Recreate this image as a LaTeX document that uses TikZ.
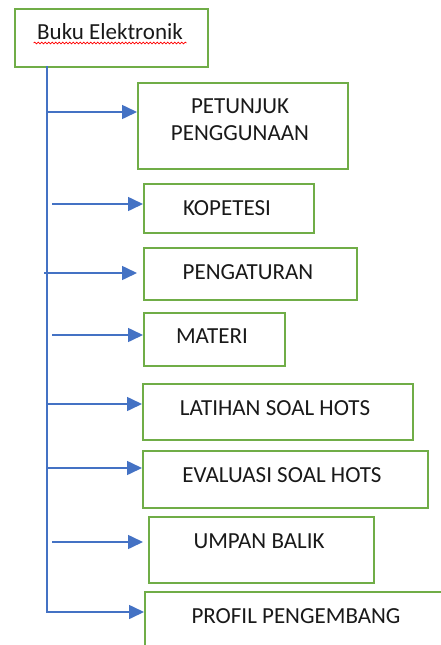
\documentclass[tikz,border=0pt]{standalone}
\usepackage{fontspec}
\setmainfont{Carlito}
\usetikzlibrary{arrows.meta, calc, decorations.pathmorphing}

\definecolor{lineblue}{HTML}{4472C4}
\definecolor{boxgreen}{HTML}{70AD47}

\begin{document}
\begin{tikzpicture}[
                x=1pt, y=-1pt,
                box/.style={draw=boxgreen, line width=1.6pt, anchor=north west, inner sep=0pt},
                lbl/.style={font=\fontsize{23}{26}\selectfont, align=center, text=black!90, anchor=base},
                arr/.style={-{Triangle[length=15pt,width=14pt]}, draw=lineblue, line width=1.6pt}
            ]
                \useasboundingbox (0,0) rectangle (441,645);
                \clip (0,0) rectangle (441,645);

                % kotak-kotak
                \node[box, minimum width=193, minimum height=58] (buku) at (14,8) {};
                \node[box, minimum width=210, minimum height=86] (petunjuk) at (137,82) {};
                \node[box, minimum width=170, minimum height=49] (kompetensi) at (143,183) {};
                \node[box, minimum width=213, minimum height=52] (pengaturan) at (143,247) {};
                \node[box, minimum width=141, minimum height=53] (materi) at (143,312) {};
                \node[box, minimum width=270, minimum height=56] (latihan) at (142,383) {};
                \node[box, minimum width=285, minimum height=57] (evaluasi) at (142,450) {};
                \node[box, minimum width=225, minimum height=66] (umpan) at (148,516) {};
                \node[box, minimum width=310, minimum height=80] (profil) at (144,591) {};

                % teks
                \node[lbl] (buku-t) at (110,39) {Buku Elektronik};
                \draw[red, line width=0.7pt, decorate, decoration={snake, amplitude=0.9pt, segment length=3.5pt}]
                    ([yshift=-4pt]buku-t.base west) -- ([yshift=-4pt]buku-t.base east);
                \node[lbl] (petunjuk-t1) at (240,113) {PETUNJUK};
                \node[lbl] (petunjuk-t2) at (240,140) {PENGGUNAAN};
                \node[lbl] (kompetensi-t) at (227,215) {KOPETESI};
                \node[lbl] (pengaturan-t) at (248,279) {PENGATURAN};
                \node[lbl] (materi-t) at (212,343) {MATERI};
                \node[lbl] (latihan-t) at (275,415) {LATIHAN SOAL HOTS};
                \node[lbl] (evaluasi-t) at (282,482) {EVALUASI SOAL HOTS};
                \node[lbl] (umpan-t) at (259,548) {UMPAN BALIK};
                \node[lbl] (profil-t) at (296,623) {PROFIL PENGEMBANG};

                % titik awal panah
                \coordinate (s0) at (47,66);
                \coordinate (s1) at (47,112);
                \coordinate (s2) at (52,204);
                \coordinate (s3) at (44,273);
                \coordinate (s4) at (52,335);
                \coordinate (s5) at (47,404);
                \coordinate (s6) at (47,468);
                \coordinate (s7) at (52,542);
                \coordinate (s8) at (47,612);

                \draw[arr] (s0) -- (s8) -- (s8 -| profil.west);
                \draw[arr] (s1) -- (s1 -| petunjuk.west);
                \draw[arr] (s2) -- (s2 -| kompetensi.west);
                \draw[arr, shorten >=6pt] (s3) -- (s3 -| pengaturan.west);
                \draw[arr] (s4) -- (s4 -| materi.west);
                \draw[arr] (s5) -- (s5 -| latihan.west);
                \draw[arr] (s6) -- (s6 -| evaluasi.west);
                \draw[arr, shorten >=5pt] (s7) -- (s7 -| umpan.west);
            \end{tikzpicture}
\end{document}
